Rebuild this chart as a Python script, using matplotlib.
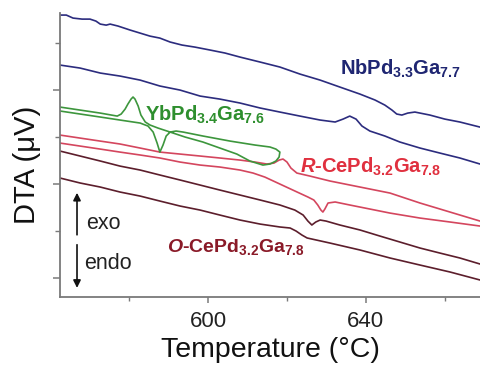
import matplotlib
matplotlib.use("Agg")
import matplotlib.pyplot as plt
from matplotlib.ticker import FixedLocator

plt.rcParams['font.family'] = ['Liberation Sans', 'DejaVu Sans']
plt.rcParams['mathtext.fontset'] = 'custom'
plt.rcParams['mathtext.rm'] = 'Liberation Sans:bold'
plt.rcParams['mathtext.bf'] = 'Liberation Sans:bold'
plt.rcParams['mathtext.it'] = 'Liberation Sans:italic:bold'
plt.rcParams['mathtext.default'] = 'bf'

# ---- DTA traces: temperature (°C) and signal (µV, offset for display) ----
nb_heat_T = [562.5, 564.1, 565.8, 568.1, 570.1, 571.6, 572.7, 574.2, 575.2, 577.2, 580.3,
             582.8, 585.3, 587.8, 590.4, 593.4, 596.7, 600.5, 604.3, 608.1, 613.2, 618.2,
             623.3, 628.4, 633.4, 638.5, 642.3, 644.8, 646.6, 647.8, 649.1, 650.6, 652.4,
             656.2, 660.0, 663.8, 668.9]
nb_heat_S = [27.98, 27.98, 27.66, 27.55, 27.55, 27.34, 27.02, 26.91, 27.02, 26.81, 26.38,
             26.06, 25.74, 25.53, 25.11, 24.79, 24.57, 24.26, 23.94, 23.51, 22.98, 22.45,
             21.70, 21.06, 20.32, 19.57, 18.94, 18.40, 17.87, 17.45, 17.34, 17.55, 17.66,
             17.34, 16.91, 16.60, 16.06]

nb_cool_T = [562.5, 567.6, 572.7, 577.7, 582.8, 587.8, 592.9, 598.0, 603.0, 608.1, 613.2,
             618.2, 623.3, 628.4, 632.2, 634.2, 635.9, 637.5, 639.0, 641.0, 644.8, 648.6,
             653.7, 658.7, 663.8, 668.9]
nb_cool_S = [22.66, 22.34, 21.81, 21.49, 21.06, 20.43, 20.00, 19.36, 19.04, 18.62, 18.09,
             17.66, 17.23, 16.81, 16.60, 16.91, 17.23, 16.91, 16.17, 15.64, 15.11, 14.47,
             13.83, 13.30, 12.77, 12.13]

# YbPd3.4Ga7.6: heating branch followed by the cooling branch (one continuous run)
yb_T = [562.5, 567.6, 572.7, 577.7, 582.8, 584.8, 586.1, 587.1, 587.8, 588.6, 589.4,
        590.4, 591.9, 593.7, 598.7, 605.6, 611.9, 615.7, 617.2, 618.2, 618.0, 617.2,
        615.7, 613.9,
        610.6, 607.3, 603.0, 598.7, 594.2, 590.4, 587.3, 585.3, 584.1, 583.0, 582.3,
        581.5, 581.0, 580.5, 579.7, 579.0, 578.0, 577.0, 572.7, 567.6, 562.5]
yb_S = [17.77, 17.45, 17.13, 16.81, 16.49, 16.17, 15.53, 14.36, 13.40, 14.15, 15.11,
        15.53, 15.64, 15.53, 15.11, 14.57, 14.15, 13.94, 13.72, 13.40, 12.87, 12.45,
        12.13, 12.02,
        12.45, 13.19, 13.83, 14.47, 15.00, 15.53, 15.96, 16.28, 16.60, 17.34, 18.30,
        19.04, 19.26, 19.04, 18.51, 17.98, 17.45, 17.23, 17.55, 17.87, 18.19]

r_a_T = [562.5, 567.6, 572.7, 577.7, 582.8, 587.8, 592.9, 598.0, 603.0, 608.1, 611.9,
         614.9, 616.7, 618.0, 619.0, 620.0, 621.0, 622.5, 625.8, 630.9, 638.5, 646.1,
         653.7, 661.3, 668.9]
r_a_S = [15.21, 14.89, 14.57, 14.26, 13.83, 13.40, 13.19, 12.98, 12.77, 12.55, 12.34,
         12.13, 12.23, 12.55, 12.66, 12.34, 11.70, 11.17, 10.85, 10.32, 9.68, 9.04,
         7.98, 7.02, 6.06]

r_b_T = [562.5, 567.6, 572.7, 577.7, 582.8, 587.8, 592.9, 598.0, 603.0, 608.1, 611.4,
         614.4, 618.2, 622.0, 625.3, 626.8, 627.8, 628.6, 629.1, 629.6, 630.4, 632.2,
         635.9, 641.0, 646.1, 653.7, 661.3, 668.9]
r_b_S = [14.36, 14.04, 13.72, 13.40, 13.09, 12.77, 12.34, 12.02, 11.81, 11.49, 11.17,
         10.74, 10.00, 9.26, 8.62, 8.30, 7.77, 7.23, 7.02, 7.34, 7.98, 8.09,
         7.77, 7.34, 6.91, 6.38, 5.96, 5.53]

o_a_T = [562.5, 567.6, 572.7, 577.7, 582.8, 587.8, 592.9, 598.0, 603.0, 608.1, 613.2,
         618.2, 622.0, 624.1, 625.3, 626.3, 627.3, 628.4, 629.9, 633.4, 638.5, 643.5,
         648.6, 653.7, 658.7, 663.8, 668.9]
o_a_S = [13.51, 12.98, 12.45, 11.91, 11.49, 10.96, 10.43, 9.89, 9.36, 8.83, 8.30,
         7.77, 7.23, 6.70, 6.06, 5.64, 5.96, 6.17, 6.06, 5.64, 5.11, 4.47,
         3.83, 3.19, 2.66, 2.13, 1.49]

o_b_T = [562.5, 567.6, 572.7, 577.7, 582.8, 587.8, 592.9, 598.0, 603.0, 608.1, 613.2,
         618.2, 620.8, 622.3, 623.8, 625.1, 630.9, 638.5, 646.1, 653.7, 661.3, 668.9]
o_b_S = [10.64, 10.11, 9.68, 9.15, 8.72, 8.19, 7.66, 7.23, 6.70, 6.17, 5.74,
         5.43, 5.32, 5.00, 4.57, 4.26, 3.72, 2.98, 2.13, 1.38, 0.64, -0.21]

x_major = [600, 640]
x_minor = [580, 620, 660]
y_major = [0, 10, 20]
y_minor = [5, 15, 25]

c_nb = '#2c2c7e'
c_yb = '#3d963d'
c_r = '#d4465e'
c_o = '#5c1e2c'

fig = plt.figure(figsize=(4.8, 3.66), dpi=100)
ax = fig.add_axes([60 / 480, 1 - 297 / 366, 420 / 480, 284 / 366])

lw = 1.2
ax.plot(nb_heat_T, nb_heat_S, color=c_nb, lw=lw)
ax.plot(nb_cool_T, nb_cool_S, color=c_nb, lw=lw)
ax.plot(r_a_T, r_a_S, color=c_r, lw=lw)
ax.plot(r_b_T, r_b_S, color=c_r, lw=lw)
ax.plot(o_a_T, o_a_S, color=c_o, lw=lw)
ax.plot(o_b_T, o_b_S, color=c_o, lw=lw)
ax.plot(yb_T, yb_S, color=c_yb, lw=lw)

ax.set_xlim(562.5, 668.9)
ax.set_ylim(-2.02, 28.2)

ax.xaxis.set_major_locator(FixedLocator(x_major))
ax.xaxis.set_minor_locator(FixedLocator(x_minor))
ax.yaxis.set_major_locator(FixedLocator(y_major))
ax.yaxis.set_minor_locator(FixedLocator(y_minor))
ax.tick_params(axis='y', which='both', labelleft=False, direction='out', color='#7a7a7a')
ax.tick_params(axis='y', which='major', length=5, width=1.1)
ax.tick_params(axis='y', which='minor', length=3.5, width=1.0)
ax.tick_params(axis='x', which='major', length=4, width=1.1, direction='out',
               color='#7a7a7a', labelsize=16, labelcolor='#222222', pad=6)
ax.tick_params(axis='x', which='minor', length=3, width=1.0, direction='out', color='#7a7a7a')

for side in ('top', 'right'):
    ax.spines[side].set_visible(False)
for side in ('left', 'bottom'):
    ax.spines[side].set_color('#7a7a7a')
    ax.spines[side].set_linewidth(1.3)

ax.set_xlabel('Temperature (°C)', fontsize=20.5, color='#111111', labelpad=3.5)
ax.set_ylabel('DTA (μV)', fontsize=21, color='#111111')
ax.yaxis.set_label_coords(-0.045, 0.465)

ax.text(0.667, 0.784, r'NbPd$_{3.3}$Ga$_{7.7}$', transform=ax.transAxes,
        fontsize=14.5, fontweight='bold', color='#1f2672', va='baseline')
ax.text(0.202, 0.622, r'YbPd$_{3.4}$Ga$_{7.6}$', transform=ax.transAxes,
        fontsize=14.5, fontweight='bold', color='#2e8f2e', va='baseline')
ax.text(0.571, 0.438, r'$\mathit{R}$-CePd$_{3.2}$Ga$_{7.8}$', transform=ax.transAxes,
        fontsize=14.5, fontweight='bold', color='#e0303f', va='baseline')
ax.text(0.255, 0.159, r'$\mathit{O}$-CePd$_{3.2}$Ga$_{7.8}$', transform=ax.transAxes,
        fontsize=14, fontweight='bold', color='#8a1a28', va='baseline')

arrow_kw = dict(arrowstyle='-|>', color='#111111', lw=1.2, mutation_scale=11,
                shrinkA=0, shrinkB=0)
ax.annotate('', xy=(0.0405, 0.367), xytext=(0.0405, 0.219),
            xycoords='axes fraction', textcoords='axes fraction', arrowprops=arrow_kw)
ax.annotate('', xy=(0.0405, 0.032), xytext=(0.0405, 0.184),
            xycoords='axes fraction', textcoords='axes fraction', arrowprops=arrow_kw)
ax.text(0.062, 0.260, 'exo', transform=ax.transAxes, fontsize=15.5,
        color='#222222', va='center', ha='left')
ax.text(0.058, 0.118, 'endo', transform=ax.transAxes, fontsize=15.5,
        color='#222222', va='center', ha='left')

fig.savefig('out.png', dpi=100)
